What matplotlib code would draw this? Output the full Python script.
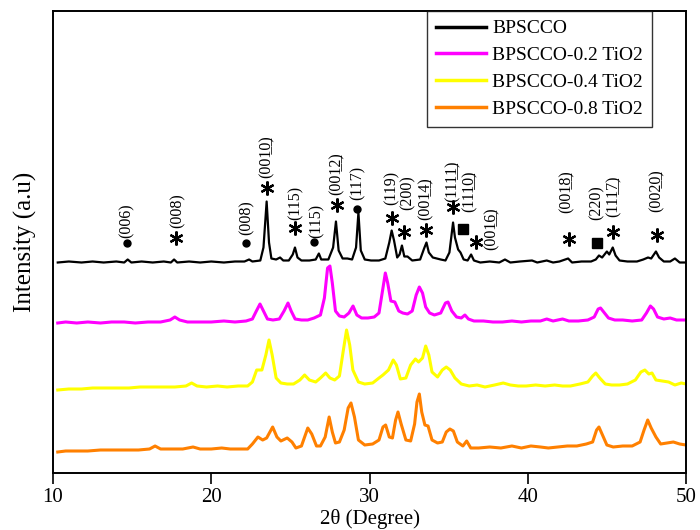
import numpy as np
from matplotlib import pyplot as plt

plt.rcParams['font.family'] = ['Liberation Serif', 'DejaVu Serif']

SERIES = ['BPSCCO', 'BPSCCO-0.2 TiO2', 'BPSCCO-0.4 TiO2', 'BPSCCO-0.8 TiO2']

# 2theta / intensity (a.u.), each relative to its own baseline
BPSCCO_2T = [10.3, 11.0, 11.8, 12.5, 13.2, 14.0, 14.5, 14.72, 14.95, 15.6, 16.3, 17.0, 17.45, 17.65,
             17.85, 18.6, 19.3, 20.0, 20.8, 21.5, 22.1, 22.39, 22.6, 23.1, 23.3, 23.5, 23.65, 23.8,
             24.1, 24.35, 24.55, 24.9, 25.15, 25.29, 25.45, 25.7, 26.2, 26.6, 26.8, 26.95, 27.4,
             27.7, 27.88, 28.05, 28.3, 28.6, 28.9, 29.15, 29.3, 29.45, 29.7, 30.1, 30.6, 31.0,
             31.25, 31.4, 31.55, 31.75, 31.9, 32.05, 32.2, 32.4, 32.7, 33.2, 33.45, 33.6, 33.75,
             34.0, 34.5, 34.8, 35.05, 35.28, 35.4, 35.6, 35.75, 35.95, 36.2, 36.42, 36.6, 37.0,
             37.6, 38.2, 38.56, 38.9, 39.5, 40.27, 40.6, 41.2, 41.6, 42.0, 42.55, 42.8, 43.4, 44.0,
             44.3, 44.5, 44.7, 45.0, 45.15, 45.37, 45.55, 45.8, 46.3, 46.9, 47.3, 47.6, 47.8, 48.1,
             48.3, 48.6, 49.0, 49.3, 49.6, 50.0]
BPSCCO_I = [0, 1, 0, 1, 0, 1, 0, 3, 0, 1, 0, 1, 0, 3,
            0, 1, 0, 1, 0, 1, 1, 3, 1, 2, 15, 61, 20, 4,
            3, 5, 2, 2, 8, 15, 5, 2, 2, 3, 9, 3, 3,
            15, 41, 12, 4, 4, 3, 15, 50, 12, 3, 2, 2, 4,
            20, 32, 22, 5, 8, 17, 6, 6, 2, 3, 14, 20, 10,
            5, 3, 2, 10, 40, 25, 13, 10, 3, 2, 8, 2, 0,
            1, 0, 3, 0, 1, 2, 0, 2, 0, 1, 4, 0, 1, 1,
            3, 7, 5, 11, 8, 15, 7, 2, 1, 1, 3, 5, 4, 11,
            5, 1, 1, 4, 0, 0]

TIO2_02_2T = [10.3, 10.8, 11.5, 12.2, 13.0, 13.7, 14.5, 15.2, 16.0, 16.8, 17.4, 17.7, 18.0, 18.5,
              19.2, 20.0, 20.8, 21.5, 22.2, 22.6, 22.85, 23.08, 23.3, 23.55, 23.9, 24.3, 24.6,
              24.85, 25.05, 25.3, 25.7, 26.1, 26.5, 26.9, 27.15, 27.35, 27.5, 27.65, 27.85, 28.1,
              28.4, 28.7, 28.96, 29.2, 29.5, 29.9, 30.3, 30.6, 30.8, 31.0, 31.15, 31.35, 31.6,
              31.85, 32.1, 32.4, 32.7, 32.95, 33.15, 33.35, 33.55, 33.8, 34.1, 34.5, 34.8, 34.96,
              35.2, 35.5, 35.8, 36.03, 36.25, 36.6, 37.2, 37.8, 38.4, 39.0, 39.6, 40.2, 40.8, 41.2,
              41.6, 42.2, 42.6, 43.2, 43.8, 44.2, 44.45, 44.6, 44.85, 45.1, 45.5, 46.0, 46.6, 47.2,
              47.5, 47.75, 47.95, 48.2, 48.6, 49.0, 49.4, 49.8, 50.0]
TIO2_02_I = [0, 1, 0, 1, 0, 1, 1, 0, 1, 1, 3, 6, 3, 1,
             1, 1, 2, 1, 2, 4, 12, 19, 12, 4, 3, 4, 12,
             20, 12, 4, 3, 3, 5, 8, 25, 55, 57, 40, 12, 7,
             6, 10, 17, 8, 5, 5, 6, 10, 30, 50, 40, 22, 21,
             12, 10, 9, 12, 28, 36, 30, 16, 10, 8, 10, 20, 21,
             12, 6, 5, 8, 4, 2, 2, 1, 1, 2, 1, 2, 2, 4,
             2, 4, 2, 2, 3, 6, 14, 15, 10, 5, 3, 3, 2, 3,
             10, 17, 14, 6, 4, 5, 3, 3, 3]

TIO2_04_2T = [10.3, 11.0, 11.8, 12.5, 13.3, 14.0, 14.8, 15.5, 16.3, 17.0, 17.7, 18.4, 18.76, 19.1,
              19.7, 20.4, 21.0, 21.7, 22.3, 22.6, 22.87, 23.2, 23.45, 23.65, 23.85, 24.1, 24.4,
              24.8, 25.2, 25.6, 25.9, 26.2, 26.6, 26.9, 27.23, 27.5, 27.8, 28.1, 28.35, 28.55,
              28.75, 28.95, 29.3, 29.7, 30.2, 30.6, 30.85, 31.2, 31.5, 31.7, 31.95, 32.3, 32.6,
              32.9, 33.1, 33.35, 33.55, 33.75, 33.95, 34.3, 34.6, 34.85, 35.1, 35.4, 35.8, 36.3,
              36.8, 37.3, 37.9, 38.45, 38.9, 39.4, 39.9, 40.5, 41.1, 41.7, 42.2, 42.7, 43.3, 43.8,
              44.1, 44.3, 44.55, 44.9, 45.3, 45.8, 46.3, 46.8, 47.15, 47.4, 47.65, 47.85, 48.1,
              48.5, 48.9, 49.3, 49.7, 50.0]
TIO2_04_I = [0, 1, 1, 2, 2, 2, 2, 3, 3, 3, 3, 4, 7, 4,
             3, 4, 3, 4, 4, 8, 20, 20, 35, 50, 35, 12, 7,
             6, 6, 10, 15, 10, 8, 12, 17, 12, 10, 14, 40, 60,
             45, 20, 8, 6, 7, 12, 15, 20, 30, 25, 11, 12, 25,
             31, 28, 32, 44, 35, 18, 13, 20, 23, 20, 12, 6, 4,
             5, 3, 5, 7, 5, 4, 4, 5, 4, 5, 4, 4, 6, 8,
             14, 17, 12, 6, 5, 5, 6, 10, 18, 20, 16, 17, 10,
             9, 8, 5, 7, 6]

TIO2_08_2T = [10.3, 10.8, 11.5, 12.2, 13.0, 13.8, 14.6, 15.4, 16.1, 16.45, 16.8, 17.5, 18.2, 18.85,
              19.3, 20.0, 20.66, 21.2, 21.8, 22.3, 22.6, 22.95, 23.25, 23.5, 23.88, 24.15, 24.4,
              24.8, 25.1, 25.35, 25.7, 26.1, 26.35, 26.65, 26.9, 27.2, 27.45, 27.65, 27.85, 28.1,
              28.4, 28.65, 28.83, 29.05, 29.3, 29.7, 30.2, 30.6, 30.85, 31.02, 31.25, 31.45,
              31.65, 31.8, 32.0, 32.3, 32.6, 32.85, 33.0, 33.15, 33.3, 33.5, 33.7, 33.95, 34.3,
              34.6, 34.85, 35.08, 35.3, 35.55, 35.9, 36.14, 36.4, 36.9, 37.6, 38.3, 39.0, 39.6,
              40.2, 40.8, 41.3, 41.9, 42.5, 43.1, 43.7, 44.1, 44.35, 44.5, 44.75, 45.0, 45.4, 46.0,
              46.6, 47.1, 47.35, 47.58, 47.8, 48.1, 48.4, 48.8, 49.2, 49.6, 50.0]
TIO2_08_I = [0, 1, 1, 1, 2, 2, 2, 2, 3, 6, 3, 3, 3, 5,
             3, 3, 4, 3, 3, 3, 8, 15, 12, 14, 25, 15, 11,
             14, 10, 4, 6, 24, 18, 6, 6, 15, 35, 20, 9, 10,
             22, 44, 49, 35, 12, 7, 8, 12, 25, 27, 15, 14,
             32, 40, 28, 12, 11, 28, 50, 58, 40, 27, 26, 12, 9,
             10, 20, 23, 21, 10, 6, 11, 4, 4, 5, 4, 6, 4,
             6, 5, 4, 5, 6, 6, 8, 10, 22, 25, 16, 7, 5, 6,
             6, 10, 22, 32, 24, 15, 8, 9, 10, 8, 7]

# peak assignments: marker position, label position (bottom of rotated text)
# '_' marks the two-digit index that is underlined in the figure
PEAK_MARK = ['dot', 'ast', 'dot', 'ast', 'ast', 'dot', 'ast', 'dot', 'ast', 'ast', 'ast', 'ast',
             'sq', 'ast', 'ast', 'sq', 'ast', 'ast']
PEAK_LABEL = ['(006)', '(008)', '(008)', '(00_10)', '(115)', '(115)', '(00_12)', '(117)', '(119)',
              '(200)', '(00_14)', '(11_11)', '(11_10)', '(00_16)', '(00_18)', '(220)', '(11_17)',
              '(00_20)']
MARK_2T = [14.68, 17.77, 22.20, 23.52, 25.29, 26.49, 27.95, 29.21, 31.42, 32.18, 33.57, 35.28,
           35.91, 36.73, 42.61, 44.38, 45.39, 48.17]
MARK_Y = [230, 235, 230, 285, 245, 231, 268, 264, 255, 241, 243, 266, 244, 231, 234, 230, 241, 238]
LABEL_2T = [14.68, 17.90, 22.26, 23.52, 25.36, 26.68, 27.95, 29.27, 31.42, 32.40, 33.55, 35.28,
            36.35, 37.74, 42.48, 44.38, 45.45, 48.17]
LABEL_Y = [235, 245, 238, 295, 253, 235, 278, 273, 268, 263, 253, 271, 261, 223, 260, 253, 256, 261]

OFFSETS = [210.5, 150, 83, 21]
COLORS = ['black', '#FF00FF', '#FFFF00', '#FF8000']
WIDTHS = [1.6, 2.2, 2.2, 2.2]
MARKER_STYLE = {
    'dot': dict(marker='o', ms=5),
    'ast': dict(marker=(6, 2, 0), ms=10, mew=1.6),
    'sq': dict(marker='s', ms=7),
}


def miller(label):
    # turn '(00_10)' into '(0010)' with the last two digits underlined
    if '_' not in label:
        return label
    head, tail = label.split('_')
    return head + ''.join(c + '\u0332' if c.isdigit() else c for c in tail)


def draw_patterns(ax):
    data = [(BPSCCO_2T, BPSCCO_I), (TIO2_02_2T, TIO2_02_I),
            (TIO2_04_2T, TIO2_04_I), (TIO2_08_2T, TIO2_08_I)]
    for (tt, inten), name, off, color, lw in zip(data, SERIES, OFFSETS, COLORS, WIDTHS):
        ax.plot(tt, np.asarray(inten) + off, color=color, lw=lw, label=name)


def annotate_peaks(ax):
    for kind, x, y in zip(PEAK_MARK, MARK_2T, MARK_Y):
        ax.plot(x, y, ls='none', color='black', mec='black', mfc='black', **MARKER_STYLE[kind])
    for label, x, y in zip(PEAK_LABEL, LABEL_2T, LABEL_Y):
        ax.text(x, y, miller(label), rotation=90, ha='center', va='bottom', fontsize=11.5)


fig = plt.figure(figsize=(7, 5.3), dpi=100)
ax = fig.add_axes([53 / 700, 57 / 530, 633 / 700, 462 / 530])

draw_patterns(ax)
annotate_peaks(ax)

ax.set_xlim(10, 50)
ax.set_ylim(0, 462)
ax.set_xticks([10, 20, 30, 40, 50])
ax.set_yticks([])
ax.tick_params(axis='x', direction='out', length=8, width=1.2, pad=3, labelsize=15)
for spine in ax.spines.values():
    spine.set_linewidth(1.4)

ax.set_xlabel('2θ (Degree)', fontsize=15, labelpad=0)
ax.xaxis.set_label_coords(0.5, -0.078)
ax.set_ylabel('Intensity (a.u)', fontsize=18)
ax.yaxis.set_label_coords(-0.043, 0.5)
ax.yaxis.label.set_va('center')

leg = ax.legend(loc='upper right', bbox_to_anchor=(0.946, 1.0), fontsize=14, frameon=True,
                fancybox=False, borderaxespad=0, borderpad=0.45, labelspacing=0.48,
                handlelength=2.6, handletextpad=0.3)
leg.get_frame().set_edgecolor('black')
leg.get_frame().set_linewidth(1.0)
for line in leg.get_lines():
    line.set_linewidth(2.5)

plt.savefig('out.png', dpi=100)
